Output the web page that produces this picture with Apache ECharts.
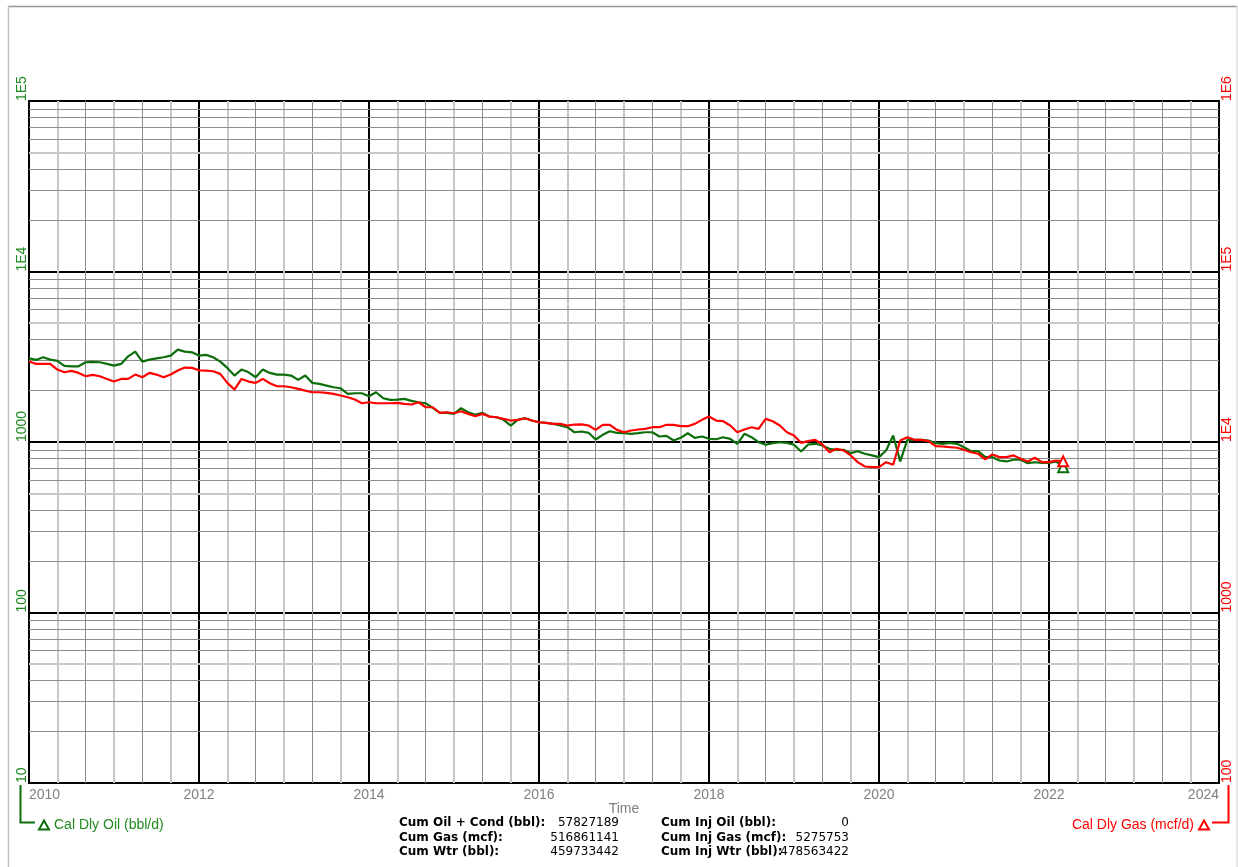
<!DOCTYPE html>
<html><head><meta charset="utf-8">
<script src="https://cdn.jsdelivr.net/npm/echarts@6/dist/echarts.min.js"></script>
<style>html,body{margin:0;padding:0;background:#fff}#c{width:1238px;height:867px}</style>
</head><body><div id="c"></div>
<script>
// ---- data (monthly, first point = Jan 2010) ----
const startYear = 2010;
const oilRate = [
3097,3030,3140,3042,2990,2796,2780,2780,2935,2950,2935,2872,
2806,2872,3181,3390,2963,3042,3097,3140,3211,3483,3390,3358,
3211,3243,3140,2963,2720,2453,2659,2564,2397,2659,2543,2486,
2486,2453,2314,2453,2222,2193,2143,2094,2066,1916,1932,1932,
1856,1958,1806,1766,1772,1791,1742,1711,1688,1586,1483,1483,
1462,1578,1495,1443,1483,1410,1397,1349,1249,1349,1379,1336,
1306,1296,1278,1249,1221,1141,1152,1132,1034,1102,1157,1132,
1126,1117,1126,1141,1141,1077,1087,1020,1058,1126,1058,1077,
1044,1038,1067,1044,976,1117,1067,997,963,984,997,989,
963,880,967,976,954,912,900,900,860,883,853,834,
815,892,1091,769,1030,1030,1030,1020,984,976,989,976,
932,883,883,815,815,779,769,787,787,751,761,755,
755,769,712
];
const gasRate = [
29630,28720,28720,28720,26590,25640,26120,25430,24290,24760,24290,23440,
22620,23440,23440,24860,23970,25430,24860,23970,24860,26240,27320,27200,
26340,26240,25990,25090,22230,20300,23440,22620,22230,23440,22110,21230,
21230,20940,20500,20030,19580,19580,19420,19160,18730,18310,17740,16880,
17110,16880,16880,16880,16970,16740,16590,17110,15990,15990,14830,14950,
14750,15150,14620,14160,14620,14100,13970,13670,13360,13490,13790,13360,
13060,12960,12780,12780,12490,12660,12700,12490,11780,12610,12610,11780,
11410,11680,11840,11940,12210,12210,12610,12610,12380,12380,12780,13490,
14100,13360,13240,12490,11410,11840,12210,11940,13670,13240,12490,11410,
10920,9890,10110,10300,9670,8710,9120,8920,8340,7616,7185,7117,
7117,7616,7354,10200,10670,10300,10300,10110,9450,9410,9320,9250,
9000,8710,8530,7900,8450,8150,8150,8340,7970,7688,8080,7616,
7616,7790,7700
];
const leftAxisLabels = ['10','100','1000','1E4','1E5'];
const rightAxisLabels = ['100','1000','1E4','1E5','1E6'];
const oilName = 'Cal Dly Oil (bbl/d)';
const gasName = 'Cal Dly Gas (mcf/d)';
const statLabelsA = ['Cum Oil + Cond (bbl):','Cum Gas (mcf):','Cum Wtr (bbl):'];
const statValuesA = ['57827189','516861141','459733442'];
const statLabelsB = ['Cum Inj Oil (bbl):','Cum Inj Gas (mcf):','Cum Inj Wtr (bbl):'];
const statValuesB = ['0','5275753','478563422'];

// ---- styles ----
const FONT = 'Liberation Sans, Arial, sans-serif';
const GREEN = '#0b6e0b';
const GREEN_TXT = '#1f8a1f';
const RED = '#ff0000';
const LIGHT = '#c8c8c8';
const DARK = '#8c8c8c';

function toPairs(arr, col) {
  return arr.map((v, i) => i === arr.length - 1
    ? { value: [i, v], symbol: 'emptyTriangle', symbolSize: 10, itemStyle: { color: col, borderWidth: 2 } }
    : [i, v]);
}

// minor horizontal grid values (2..9 within each decade)
const minorLines = [];
for (let d = 10; d < 100000; d *= 10) {
  for (let k = 2; k <= 9; k++) {
    minorLines.push({ yAxis: d * k, lineStyle: { color: k === 5 ? LIGHT : DARK, width: k === 5 ? 2 : 1, type: 'solid' } });
  }
}

const totalMonths = (2024 - startYear) * 12;
const chart = echarts.init(document.getElementById('c'), null, { renderer: 'canvas' });

const hiddenX = (colors, width) => ({
  type: 'value', min: 0, max: totalMonths, interval: 4,
  axisLine: { show: false }, axisTick: { show: false }, axisLabel: { show: false },
  splitLine: { show: true, lineStyle: { color: colors, width: width } }
});

chart.setOption({
  animation: false,
  backgroundColor: '#fff',
  grid: { left: 29, right: 19, top: 101, bottom: 84, show: true, borderColor: '#000', borderWidth: 2 },
  xAxis: [
    {
      type: 'value', min: 0, max: totalMonths, interval: 24,
      name: 'Time', nameLocation: 'middle', nameGap: 19, nameMoveOverlap: false,
      nameTextStyle: { color: '#808080', fontSize: 14, fontFamily: FONT },
      axisLine: { show: false }, axisTick: { show: false },
      axisLabel: {
        color: '#808080', fontSize: 14, fontFamily: FONT, margin: 5,
        alignMinLabel: 'left', alignMaxLabel: 'right',
        formatter: v => String(startYear + Math.round(v) / 12)
      },
      splitLine: { show: true, lineStyle: { color: '#000', width: 2 } }
    },
    hiddenX(['rgba(0,0,0,0)', LIGHT, 'rgba(0,0,0,0)', LIGHT, 'rgba(0,0,0,0)', LIGHT], 2),
    hiddenX(['rgba(0,0,0,0)', 'rgba(0,0,0,0)', DARK, 'rgba(0,0,0,0)', DARK, 'rgba(0,0,0,0)'], 1)
  ],
  yAxis: [
    {
      type: 'log', logBase: 10, min: 10, max: 100000, splitNumber: 4, position: 'left',
      axisLine: { show: false }, axisTick: { show: false },
      axisLabel: {
        rotate: 90, align: 'left', verticalAlign: 'bottom', margin: 0,
        color: GREEN_TXT, fontSize: 14, fontFamily: FONT,
        formatter: v => leftAxisLabels[Math.round(Math.log10(v)) - 1]
      },
      splitLine: { show: true, lineStyle: { color: '#000', width: 2 } }
    },
    {
      type: 'log', logBase: 10, min: 100, max: 1000000, splitNumber: 4, position: 'right',
      axisLine: { show: false }, axisTick: { show: false },
      axisLabel: {
        rotate: 90, align: 'left', verticalAlign: 'top', margin: 1,
        color: RED, fontSize: 14, fontFamily: FONT,
        formatter: v => rightAxisLabels[Math.round(Math.log10(v)) - 2]
      },
      splitLine: { show: false }
    }
  ],
  legend: [
    {
      data: [oilName], left: 38, top: 818, padding: 0, icon: 'triangle', itemWidth: 10, itemHeight: 9,
      itemStyle: { color: '#fff', borderColor: GREEN, borderWidth: 2 },
      textStyle: { color: GREEN_TXT, fontSize: 14, fontFamily: FONT }, selectedMode: false
    },
    {
      data: [gasName], right: 28, top: 818, padding: 0, align: 'right', icon: 'triangle', itemWidth: 10, itemHeight: 9,
      itemStyle: { color: '#fff', borderColor: RED, borderWidth: 2 },
      textStyle: { color: RED, fontSize: 14, fontFamily: FONT }, selectedMode: false
    }
  ],
  series: [
    {
      name: oilName, type: 'line', xAxisIndex: 0, yAxisIndex: 0,
      data: toPairs(oilRate, GREEN), symbol: 'none', showSymbol: true,
      lineStyle: { color: GREEN, width: 2.2 }, itemStyle: { color: GREEN }, z: 3,
      markLine: { silent: true, z: 1, symbol: ['none', 'none'], label: { show: false }, animation: false, data: minorLines }
    },
    {
      name: gasName, type: 'line', xAxisIndex: 0, yAxisIndex: 1,
      data: toPairs(gasRate, RED), symbol: 'none', showSymbol: true,
      lineStyle: { color: RED, width: 2.2 }, itemStyle: { color: RED }, z: 4
    }
  ],
  graphic: [
    { type: 'line', silent: true, shape: { x1: 8, y1: 6.5, x2: 1237, y2: 6.5 }, style: { stroke: '#999', lineWidth: 1.5 } },
    { type: 'line', silent: true, shape: { x1: 8.5, y1: 6, x2: 8.5, y2: 867 }, style: { stroke: '#c4c4c4', lineWidth: 1.5 } },
    { type: 'line', silent: true, shape: { x1: 1237, y1: 6, x2: 1237, y2: 867 }, style: { stroke: '#d0d0d0', lineWidth: 1 } },
    { type: 'polyline', silent: true, shape: { points: [[20.5, 785], [20.5, 822.5], [35, 822.5]] }, style: { stroke: GREEN, lineWidth: 2, fill: null } },
    { type: 'polyline', silent: true, shape: { points: [[1212, 822.5], [1228.5, 822.5], [1228.5, 785]] }, style: { stroke: RED, lineWidth: 2, fill: null } }
  ].concat(
    statLabelsA.map((t, i) => ({ type: 'text', silent: true, x: 399, y: 823 + i * 14.5, style: { text: t, fill: '#000', font: 'bold 12px DejaVu Sans', align: 'left', verticalAlign: 'middle' } })),
    statValuesA.map((t, i) => ({ type: 'text', silent: true, x: 619, y: 823 + i * 14.5, style: { text: t, fill: '#000', font: '12px DejaVu Sans', align: 'right', verticalAlign: 'middle' } })),
    statLabelsB.map((t, i) => ({ type: 'text', silent: true, x: 661, y: 823 + i * 14.5, style: { text: t, fill: '#000', font: 'bold 12px DejaVu Sans', align: 'left', verticalAlign: 'middle' } })),
    statValuesB.map((t, i) => ({ type: 'text', silent: true, x: 849, y: 823 + i * 14.5, style: { text: t, fill: '#000', font: '12px DejaVu Sans', align: 'right', verticalAlign: 'middle' } }))
  )
});
</script></body></html>
